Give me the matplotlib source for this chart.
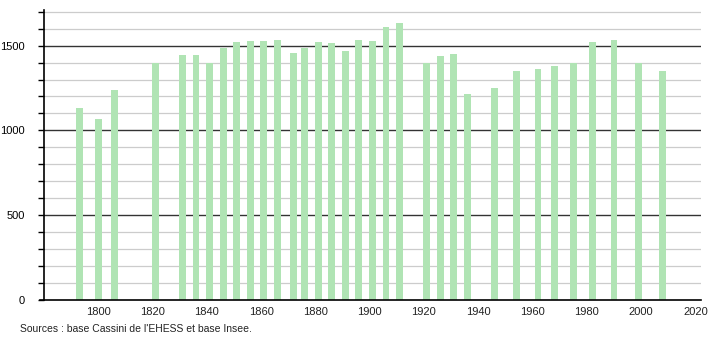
import matplotlib.pyplot as plt
from matplotlib.ticker import MultipleLocator

# recensements
years = [1793, 1800, 1806, 1821, 1831, 1836, 1841, 1846, 1851, 1856, 1861, 1866,
         1872, 1876, 1881, 1886, 1891, 1896, 1901, 1906, 1911, 1921, 1926, 1931,
         1936, 1946, 1954, 1962, 1968, 1975, 1982, 1990, 1999, 2008]
population = [1131, 1067, 1237, 1400, 1443, 1443, 1400, 1484, 1520, 1526, 1526, 1535,
              1455, 1484, 1520, 1514, 1467, 1535, 1529, 1612, 1635, 1400, 1437, 1449,
              1212, 1249, 1353, 1361, 1382, 1400, 1524, 1535, 1400, 1353]
xticks = [1800, 1820, 1840, 1860, 1880, 1900, 1920, 1940, 1960, 1980, 2000, 2020]
source = "Sources : base Cassini de l'EHESS et base Insee."

plt.rcParams['font.family'] = ['Liberation Sans', 'DejaVu Sans']

fig = plt.figure(figsize=(7.1, 3.4), dpi=100)
ax = fig.add_axes([0.062, 0.1176, 0.925, 0.853])

for y in range(100, 1800, 100):
    if y % 500 == 0:
        ax.axhline(y, color='#333333', lw=1.0, zorder=1)
    else:
        ax.axhline(y, color='#cccccc', lw=0.9, zorder=1)

ax.bar(years, population, width=2.5, color='#b0e4b4', zorder=2)

ax.set_xlim(1780, 2022)
ax.set_ylim(0, 1710)
ax.set_xticks(xticks)
ax.set_yticks([0, 500, 1000, 1500])
ax.yaxis.set_minor_locator(MultipleLocator(100))
ax.tick_params(axis='x', length=0, labelsize=8, pad=5, colors='#222222')
ax.tick_params(axis='y', which='both', length=4, width=1, labelsize=8, pad=10, colors='black')
ax.tick_params(axis='y', which='minor', length=4)

for s in ['top', 'right']:
    ax.spines[s].set_visible(False)
ax.spines['left'].set_linewidth(1.2)
ax.spines['bottom'].set_linewidth(1.2)
ax.spines['bottom'].set_bounds(1778.5, 2022)

fig.text(0.028, 0.032, source, fontsize=7.5, ha='left', va='center', color='#222222')

fig.savefig('out.png', dpi=100)
